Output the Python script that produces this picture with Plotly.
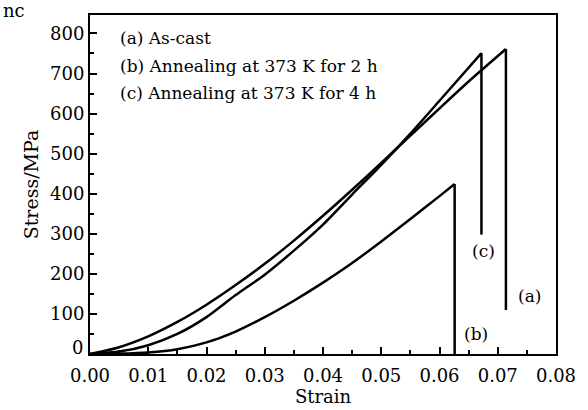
import plotly.graph_objects as go

# Tensile stress-strain curves; the last point of each series is the fracture drop
strain_a = [0, 0.005, 0.01, 0.015, 0.02, 0.025, 0.03, 0.035, 0.04, 0.045, 0.05, 0.055, 0.06, 0.065, 0.0714, 0.0714]
stress_a = [0, 17, 44, 80, 123, 172, 225, 283, 345, 410, 477, 545, 613, 680, 761, 110]

strain_c = [0, 0.005, 0.01, 0.015, 0.02, 0.025, 0.03, 0.035, 0.04, 0.045, 0.05, 0.055, 0.06, 0.0672, 0.0672]
stress_c = [0, 6, 22, 50, 92, 147, 198, 258, 323, 398, 472, 550, 632, 751, 298]

strain_b = [0, 0.005, 0.01, 0.015, 0.02, 0.025, 0.03, 0.035, 0.04, 0.045, 0.05, 0.055, 0.06, 0.0626, 0.0626]
stress_b = [0, 1, 4, 12, 29, 56, 92, 133, 178, 227, 281, 337, 394, 424, 0]

curve_labels = ["(a)", "(b)", "(c)"]
label_strain = [0.0755, 0.0663, 0.0675]
label_stress = [144, 49, 256]

legend_lines = ["(a) As-cast",
                "(b) Annealing at 373 K for 2 h",
                "(c) Annealing at 373 K for 4 h"]

FONT = "DejaVu Serif"

W, H = 588, 410
ML, MR, MT, MB = 90, 25, 15, 48
pw, ph = W - ML - MR, H - MT - MB


def px_x(p):
    return (p - ML) / pw


def px_y(p):
    return 1 - (p - MT) / ph


fig = go.Figure()
for xs, ys in [(strain_a, stress_a), (strain_c, stress_c), (strain_b, stress_b)]:
    # loading branch, smoothed
    fig.add_trace(go.Scatter(x=xs[:-1], y=ys[:-1], mode="lines",
                             line=dict(color="black", width=2.5, shape="spline", smoothing=0.6),
                             showlegend=False, hoverinfo="skip"))
    # fracture drop
    fig.add_trace(go.Scatter(x=xs[-2:], y=ys[-2:], mode="lines",
                             line=dict(color="black", width=2.5),
                             showlegend=False, hoverinfo="skip"))

annotations = []
for t, x, y in zip(curve_labels, label_strain, label_stress):
    annotations.append(dict(x=x, y=y, xref="x", yref="y", text=t, showarrow=False,
                            font=dict(family=FONT, size=17, color="black")))

for i, t in enumerate(legend_lines):
    annotations.append(dict(x=px_x(118), y=px_y(39 + 28 * i), xref="paper", yref="paper",
                            text=t, showarrow=False, xanchor="left", yanchor="middle",
                            font=dict(family=FONT, size=17, color="black")))

# zero label of the stress axis sits slightly above the axis line
annotations.append(dict(x=0, y=px_y(355), xref="paper", yref="paper", text="0",
                        showarrow=False, xanchor="right", yanchor="middle", xshift=-5,
                        font=dict(family=FONT, size=18, color="black")))

annotations.append(dict(x=px_x(0), y=px_y(10), xref="paper", yref="paper",
                        text="nc", showarrow=False, xanchor="left", yanchor="middle",
                        font=dict(family=FONT, size=18, color="black")))

xticks = [i / 100 for i in range(9)]
yticks = list(range(0, 801, 100))
fig.update_layout(
    width=W, height=H,
    margin=dict(l=ML, r=MR, t=MT, b=MB, pad=0),
    paper_bgcolor="white", plot_bgcolor="white",
    font=dict(family=FONT, size=18, color="black"),
    annotations=annotations,
    xaxis=dict(range=[0, 0.08], tickvals=xticks,
               ticktext=[f"{v:.2f}" for v in xticks],
               ticks="inside", ticklen=7, tickwidth=2, tickcolor="black",
               ticklabelstandoff=4,
               minor=dict(ticks="inside", ticklen=4, tickwidth=2, tickcolor="black",
                          dtick=0.005, showgrid=False),
               showline=True, linewidth=2, linecolor="black", mirror=True,
               showgrid=False, zeroline=False,
               title=dict(text="Strain", font=dict(size=18), standoff=0),
               tickfont=dict(size=18)),
    yaxis=dict(range=[0, 846], tickvals=yticks,
               ticktext=["" if v == 0 else str(v) for v in yticks],
               ticks="inside", ticklen=7, tickwidth=2, tickcolor="black",
               minor=dict(ticks="inside", ticklen=4, tickwidth=2, tickcolor="black",
                          dtick=50, showgrid=False),
               showline=True, linewidth=2, linecolor="black", mirror=True,
               showgrid=False, zeroline=False,
               title=dict(text="Stress/MPa", font=dict(size=19), standoff=6),
               tickfont=dict(size=18)),
)

fig.write_html("out.html")
